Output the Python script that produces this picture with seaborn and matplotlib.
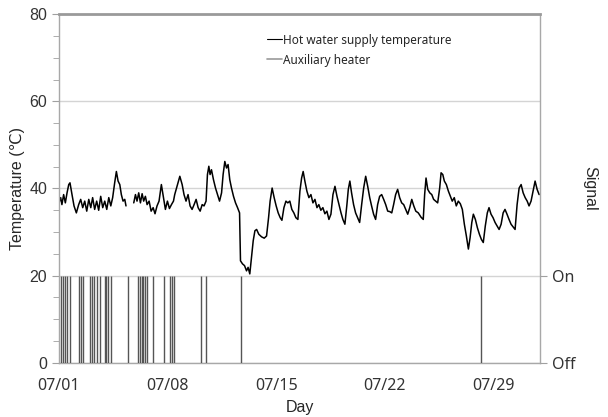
import numpy as np
import pandas as pd
import matplotlib
matplotlib.use("Agg")
import matplotlib.pyplot as plt
from matplotlib.lines import Line2D
from matplotlib.ticker import MultipleLocator
import seaborn as sns

# hot water supply temperature (day since 07/01, deg C)
seg1_day = [0.00, 0.11, 0.19, 0.30, 0.41, 0.52, 0.63, 0.71, 0.84, 0.97, 1.12, 1.27, 1.40, 1.53,
            1.66, 1.79, 1.92, 2.05, 2.17, 2.30, 2.43, 2.56, 2.69, 2.82, 2.95, 3.08, 3.21, 3.34,
            3.46, 3.59, 3.70, 3.81, 3.92, 4.02, 4.13, 4.24, 4.32]
seg1_temp = [36.7, 37.9, 36.3, 38.6, 36.7, 39.0, 40.9, 41.3, 38.6, 36.0, 34.4, 36.3, 37.5, 35.6,
             37.1, 34.8, 37.5, 35.6, 37.9, 35.2, 37.1, 35.0, 38.2, 35.6, 37.1, 35.2, 37.9, 36.0,
             37.9, 41.3, 43.9, 41.7, 40.9, 38.6, 37.1, 37.5, 36.0]

seg2_day = [4.82, 4.93, 5.03, 5.14, 5.25, 5.36, 5.46, 5.57, 5.68, 5.81, 5.94, 6.07, 6.19, 6.32,
            6.45, 6.60, 6.74, 6.86, 6.99, 7.12, 7.25, 7.38, 7.46, 7.64, 7.79, 7.94, 8.06, 8.19,
            8.32, 8.45, 8.58, 8.71, 8.84, 8.97, 9.10, 9.23, 9.35, 9.48, 9.57, 9.66, 9.74, 9.83,
            9.96, 10.09, 10.22, 10.35, 10.48, 10.58, 10.69, 10.80, 10.90, 11.01, 11.12, 11.25,
            11.38, 11.51, 11.64, 11.70, 11.83, 11.96, 12.09, 12.19, 12.30, 12.41, 12.52, 12.63,
            12.74, 12.88, 13.06, 13.23, 13.38, 13.51, 13.61, 13.74, 13.87, 14.00, 14.13, 14.26,
            14.37, 14.50, 14.63, 14.75, 14.88, 15.01, 15.14, 15.27, 15.40, 15.53, 15.64, 15.74,
            15.85, 15.98, 16.11, 16.24, 16.37, 16.50, 16.63, 16.75, 16.88, 17.01, 17.14, 17.27,
            17.40, 17.53, 17.66, 17.79, 17.92, 18.05, 18.18, 18.30, 18.43, 18.56, 18.65, 18.75,
            18.86, 18.99, 19.12, 19.25, 19.38, 19.51, 19.64, 19.77, 19.90, 20.03, 20.15, 20.28,
            20.41, 20.54, 20.67, 20.80, 20.93, 21.06, 21.19, 21.32, 21.45, 21.57, 21.70, 21.83,
            21.96, 22.09, 22.22, 22.35, 22.48, 22.61, 22.74, 22.87, 23.00, 23.16, 23.34, 23.48,
            23.57, 23.66, 23.77, 23.90, 24.03, 24.15, 24.28, 24.41, 24.54, 24.63, 24.74, 24.84,
            24.97, 25.10, 25.23, 25.35, 25.48, 25.61, 25.74, 25.87, 26.00, 26.13, 26.26, 26.39,
            26.50, 26.61, 26.71, 26.84, 26.97, 27.10, 27.23, 27.35, 27.48, 27.61, 27.72, 27.85,
            27.98, 28.11, 28.24, 28.37, 28.50, 28.63, 28.75, 28.88, 29.01, 29.14, 29.27, 29.40,
            29.53, 29.66, 29.79, 29.92, 30.05, 30.18, 30.30, 30.43, 30.56, 30.69, 30.82, 30.95]
seg2_temp = [36.7, 38.6, 37.1, 39.0, 36.7, 38.8, 37.1, 38.2, 36.3, 37.1, 34.8, 35.6, 34.2, 36.0,
             37.1, 40.9, 37.9, 35.2, 37.1, 35.4, 36.3, 37.1, 38.6, 40.9, 42.8, 40.9, 38.6, 37.1,
             38.6, 36.0, 35.2, 36.3, 37.5, 35.6, 34.8, 36.3, 36.0, 37.1, 43.2, 45.1, 43.2, 44.3,
             42.0, 40.1, 38.6, 37.1, 39.0, 43.2, 46.2, 44.7, 45.5, 42.0, 40.1, 38.2,
             36.7, 35.6, 34.4, 23.4, 22.7, 22.3, 21.1, 21.9, 20.4, 24.2, 28.0, 30.3,
             30.6, 29.5, 28.9, 28.6, 29.1, 33.3, 37.1, 40.1, 37.9, 36.0, 34.4, 33.3,
             32.7, 35.6, 37.1, 36.7, 37.1, 35.2, 34.4, 33.3, 32.9, 39.4, 42.4, 43.9,
             41.7, 39.4, 37.9, 38.6, 36.7, 37.5, 35.6, 36.3, 35.0, 35.6, 34.2, 34.8,
             32.9, 34.1, 38.6, 40.5, 38.2, 36.3, 34.4, 32.9, 31.8, 36.3, 39.8, 41.7,
             39.0, 36.3, 34.4, 33.3, 32.2, 36.3, 40.1, 42.8, 40.5, 37.9, 36.0, 34.1,
             32.9, 36.3, 38.2, 38.6, 37.5, 36.3, 34.8, 34.7, 34.4, 36.3, 38.6, 39.8,
             37.9, 36.7, 36.3, 35.2, 34.1, 35.6, 37.5, 36.0, 34.8, 34.4, 33.4, 32.9,
             38.6, 42.4, 39.8, 39.0, 38.6, 37.5, 37.1, 36.7, 40.1, 43.6, 43.2, 41.7,
             40.9, 39.4, 38.2, 37.1, 37.9, 36.0, 37.1, 36.5, 35.2, 31.8, 29.1, 26.1,
             28.7, 32.2, 34.1, 32.9, 31.0, 29.5, 28.3, 27.6, 31.4, 34.4, 35.6, 34.1,
             33.3, 32.2, 31.4, 30.6, 31.8, 34.4, 35.2, 34.1, 32.9, 31.8, 31.2, 30.6,
             36.3, 40.1, 40.9, 39.0, 37.9, 37.1, 36.0, 37.1, 39.4, 41.7, 39.8, 38.6]

# auxiliary heater switched on (day since 07/01)
heater_on = [0.16, 0.27, 0.37, 0.53, 0.70, 1.30, 1.39, 1.52, 1.99, 2.10, 2.27, 2.42, 2.63,
             2.95, 3.06, 3.17, 3.34, 4.42, 5.11, 5.21, 5.32, 5.43, 5.54, 5.65, 6.08, 6.76,
             7.15, 7.26, 7.41, 9.15, 9.45, 11.73, 27.19]

day_ticks = [0, 7, 14, 21, 28]
day_labels = ["07/01", "07/08", "07/15", "07/22", "07/29"]

df = pd.DataFrame({
    "day": seg1_day + seg2_day,
    "temp": seg1_temp + seg2_temp,
    "seg": [1] * len(seg1_day) + [2] * len(seg2_day),
})

sns.set_style("white")
plt.rcParams["font.family"] = ["Liberation Sans", "DejaVu Sans"]

fig = plt.figure(figsize=(6.08, 4.17), dpi=100)
ax = fig.add_axes([0.097, 0.130, 0.791, 0.836])

sns.lineplot(data=df, x="day", y="temp", units="seg", estimator=None,
             color="black", lw=1.1, ax=ax, legend=False)

ax.set_xlim(0, 31)
ax.set_ylim(0, 80)
ax.set_yticks([0, 20, 40, 60, 80])
ax.yaxis.set_minor_locator(MultipleLocator(5))
ax.set_xticks(day_ticks)
ax.set_xticklabels(day_labels, family=["Noto Sans", "DejaVu Sans"])
ax.xaxis.set_minor_locator(MultipleLocator(1))
ax.tick_params(axis="both", which="both", direction="out", color="#a0a0a0",
               labelsize=11.5, labelcolor="#333333")
ax.tick_params(axis="y", which="major", length=5)
ax.tick_params(axis="y", which="minor", length=4)
ax.tick_params(axis="x", which="major", length=5, pad=6)
ax.tick_params(axis="x", which="minor", length=4)
ax.grid(axis="y", color="#d4d4d4", lw=1)
ax.set_axisbelow(True)
for side in ["left", "right", "bottom"]:
    ax.spines[side].set_color("#a8a8a8")
    ax.spines[side].set_linewidth(1)
ax.spines["top"].set_color("#9a9a9a")
ax.spines["top"].set_linewidth(2)

ax.set_xlabel("Day", fontsize=11.5, labelpad=4)
ax.set_ylabel("Temperature (℃)", fontsize=11.5, labelpad=3)

# heater signal on a second axis: Off = 0, On = 1 (aligned with 20 deg C)
ax2 = ax.twinx()
ax2.set_ylim(0, 4)
ax2.vlines(heater_on, 0, 1, color="#555555", lw=1)
ax2.set_yticks([0, 1])
ax2.set_yticklabels(["Off", "On"], family=["Noto Sans", "DejaVu Sans"])
ax2.tick_params(axis="y", direction="out", length=5, color="#a0a0a0",
                labelsize=11.5, labelcolor="#333333")
for side in ax2.spines:
    ax2.spines[side].set_visible(False)
ax2.set_ylabel("Signal", fontsize=11.5, rotation=270, labelpad=16)

handles = [Line2D([], [], color="black", lw=0.8),
           Line2D([], [], color="#999999", lw=1.2)]
ax.legend(handles, ["Hot water supply temperature", "Auxiliary heater"],
          loc="upper left", bbox_to_anchor=(0.41, 0.975), frameon=False,
          handlelength=1.3, handletextpad=0.1, labelspacing=0.6,
          prop={"family": ["Noto Sans", "DejaVu Sans"], "size": 8.5})

fig.savefig("out.png", dpi=100)
